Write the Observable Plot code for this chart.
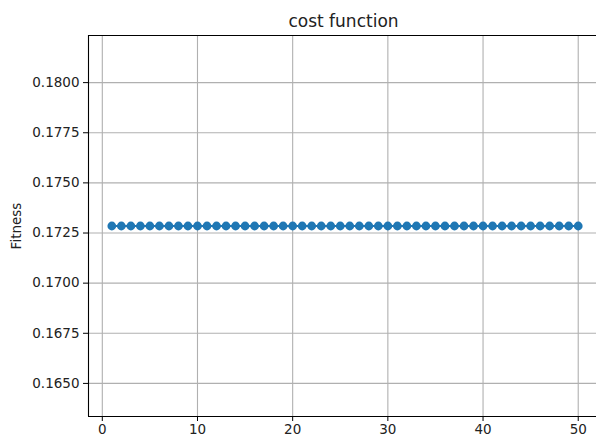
<!DOCTYPE html>
<html>
<head>
<meta charset="utf-8">
<script src="https://cdn.jsdelivr.net/npm/d3@7"></script>
<script src="https://cdn.jsdelivr.net/npm/@observablehq/plot@0.6"></script>
<style>
  html, body { margin: 0; padding: 0; background: #fff; overflow: hidden; }
  #chart { width: 596px; height: 439px; overflow: hidden; }
  #chart svg { font-family: "DejaVu Sans", sans-serif; max-width: none !important; }
</style>
</head>
<body>
<div id="chart"></div>
<script>
const titleText = "cost function";
const yLabel = "Fitness";
const iterations = [1,2,3,4,5,6,7,8,9,10,11,12,13,14,15,16,17,18,19,20,21,22,23,24,25,26,27,28,29,30,31,32,33,34,35,36,37,38,39,40,41,42,43,44,45,46,47,48,49,50];
const fitness = [0.17285,0.17285,0.17285,0.17285,0.17285,0.17285,0.17285,0.17285,0.17285,0.17285,
                 0.17285,0.17285,0.17285,0.17285,0.17285,0.17285,0.17285,0.17285,0.17285,0.17285,
                 0.17285,0.17285,0.17285,0.17285,0.17285,0.17285,0.17285,0.17285,0.17285,0.17285,
                 0.17285,0.17285,0.17285,0.17285,0.17285,0.17285,0.17285,0.17285,0.17285,0.17285,
                 0.17285,0.17285,0.17285,0.17285,0.17285,0.17285,0.17285,0.17285,0.17285,0.17285];
const xTicks = [0, 10, 20, 30, 40, 50];
const yTicks = [0.1650, 0.1675, 0.1700, 0.1725, 0.1750, 0.1775, 0.1800];
const xDomain = [-1.45, 51.92];
const yDomain = [0.16335, 0.18235];

const data = iterations.map((x, i) => ({x, y: fitness[i]}));
const blue = "#1f77b4";

const chart = Plot.plot({
  width: 596,
  height: 439,
  marginLeft: 88,
  marginRight: 0,
  marginTop: 35,
  marginBottom: 23,
  style: {fontFamily: "DejaVu Sans, sans-serif", background: "#fff", maxWidth: "none"},
  x: {domain: xDomain, ticks: xTicks},
  y: {domain: yDomain, ticks: yTicks},
  marks: [
    Plot.gridX(xTicks, {stroke: "#b0b0b0", strokeOpacity: 1, strokeWidth: 1.1}),
    Plot.gridY(yTicks, {stroke: "#b0b0b0", strokeOpacity: 1, strokeWidth: 1.1}),
    Plot.line(data, {x: "x", y: "y", stroke: blue, strokeWidth: 2}),
    Plot.dot(data, {x: "x", y: "y", fill: blue, r: 4.4, stroke: "none"}),
    Plot.ruleY(yDomain, {stroke: "#000", strokeWidth: 1.1}),
    Plot.ruleX([xDomain[0]], {stroke: "#000", strokeWidth: 1.1}),
    Plot.axisX(xTicks, {tickSize: 5, tickPadding: 3, fontSize: 13.5, label: null, stroke: "#000", fill: "#222"}),
    Plot.axisY(yTicks, {tickSize: 5, tickPadding: 4, fontSize: 13.5, label: null, tickFormat: d3.format(".4f"), stroke: "#000", fill: "#222"}),
    Plot.text([titleText], {frameAnchor: "top", text: d => d, dy: -9, dx: 1, lineAnchor: "bottom", fontSize: 17, fill: "#222", textAnchor: "middle"}),
    Plot.text([yLabel], {frameAnchor: "left", text: d => d, dx: -72, rotate: -90, fontSize: 13.5, fill: "#222", textAnchor: "middle", lineAnchor: "middle"})
  ]
});
document.getElementById("chart").appendChild(chart);
</script>
</body>
</html>
